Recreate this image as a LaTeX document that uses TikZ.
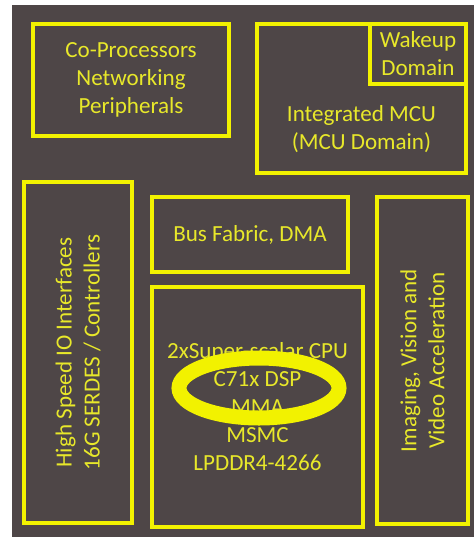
\documentclass[tikz,border=0pt]{standalone}
\usepackage{fontspec}
\setmainfont{Carlito}
\definecolor{dieGray}{HTML}{4E4647}
\definecolor{markYellow}{HTML}{F2F200}
\definecolor{textYellow}{HTML}{E8E82A}
\tikzset{
  blk/.style={draw=markYellow, line width=2.3pt, inner sep=0pt,
    text=textYellow, align=center, font=\fontsize{17.3}{21}\selectfont},
  lbl/.style={text=textYellow, align=center, font=\fontsize{17.3}{21}\selectfont},
}
\begin{document}
\begin{tikzpicture}[x=0.75pt, y=-0.75pt]
            \useasboundingbox (0,0) rectangle (474,537);
            \fill[white] (0,0) rectangle (474,537);
            \fill[dieGray] (12,5) rectangle (474,537);

            % top row
            \node[blk, minimum width=147pt, minimum height=84pt] (copro) at (131,80) {Co-Processors\\Networking\\Peripherals};
            \node[blk, minimum width=156.75pt, minimum height=111.75pt] (mcu) at (361.5,98.5) {};
            \node[blk, minimum width=72pt, minimum height=45pt] (wakeup) at (418,54) {Wakeup\\Domain};
            \node[lbl] (mculabel) at (361.5,129) {Integrated MCU\\(MCU Domain)};

            % lower part
            \node[blk, minimum width=81pt, minimum height=255.75pt] (hsio) at (78,352.5) {};
            \node[lbl, rotate=90] at (hsio) {High Speed IO Interfaces\\16G SERDES / Controllers};
            \node[blk, minimum width=147pt, minimum height=56.25pt] (bus) at (250,234.5) {Bus Fabric, DMA};
            \node[blk, minimum width=158.25pt, minimum height=180pt] (cpu) at (257.5,407) {2xSuper-scalar CPU\\C71x DSP\\MMA\\MSMC\\LPDDR4-4266};
            \node[blk, minimum width=68.25pt, minimum height=245.25pt] (imaging) at (422.5,360.5) {};
            \node[lbl, rotate=90] at (imaging) {Imaging, Vision and\\Video Acceleration};

            % highlight
            \draw[markYellow, line width=11.25pt] (259,388) ellipse [x radius=80, y radius=30];
\end{tikzpicture}
\end{document}
